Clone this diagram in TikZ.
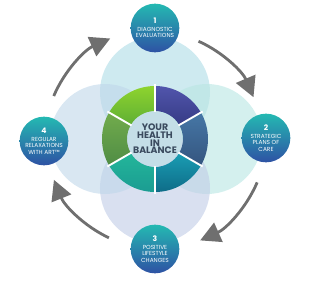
\documentclass[tikz,border=0pt]{standalone}
\usepackage{fontspec}
\setmainfont{Poppins}
\usetikzlibrary{arrows.meta, shadings}
\definecolor{hbInk}{HTML}{3A4A5E}
\definecolor{hbTeal}{HTML}{24B9B2}
\definecolor{hbBlue}{HTML}{2E52A4}
\definecolor{hbGrey}{HTML}{6F6F6F}
\definecolor{hbPetalA}{HTML}{AEDCE6}
\definecolor{hbPetalB}{HTML}{B8E6E3}
\definecolor{hbPetalC}{HTML}{C0CCE6}
\definecolor{hbPetalD}{HTML}{BFD7EA}
\definecolor{hbCore}{HTML}{C4DEE7}
\definecolor{segIndigoA}{HTML}{5155AC}
\definecolor{segIndigoB}{HTML}{363B85}
\definecolor{segSlateA}{HTML}{4677A6}
\definecolor{segSlateB}{HTML}{34557F}
\definecolor{segTealA}{HTML}{1A9DB3}
\definecolor{segTealB}{HTML}{0E6C88}
\definecolor{segMintA}{HTML}{23B69A}
\definecolor{segMintB}{HTML}{1B9C92}
\definecolor{segOliveA}{HTML}{72AC4C}
\definecolor{segOliveB}{HTML}{4F8C45}
\definecolor{segLimeA}{HTML}{8ED42E}
\definecolor{segLimeB}{HTML}{5FAE34}
\tikzset{
  stepdot/.style={
    circle, draw=none, minimum size=14.6mm, inner sep=0pt,
    top color=hbTeal, bottom color=hbBlue, text=white,
    align=center, font=\fontsize{5}{5.6}\selectfont
  },
  petal/.style={fill opacity=0.6},
  turn/.style={-{Triangle[length=6mm, width=6.2mm]}, line width=2.4pt, draw=hbGrey},
  hub/.style={circle, minimum size=16.2mm, inner sep=0pt, fill=hbCore,
    align=center, text=hbInk, font=\fontsize{8}{6.6}\selectfont\bfseries},
}
\newcommand{\segment}[4]{%
  \shade[top color=#3, bottom color=#4]
    (#1:28) arc[start angle=#1, end angle=#2, radius=28]
    -- (#2:53) arc[start angle=#2, end angle=#1, radius=53] -- cycle;}

\begin{document}
\begin{tikzpicture}[x=0.3mm, y=0.3mm]
  \useasboundingbox (-155,-143) rectangle (155,139);

  % pale petals
  \fill[petal, hbPetalA] (0,47) circle[radius=55];
  \fill[petal, hbPetalB] (52,0) circle[radius=55];
  \fill[petal, hbPetalC] (0,-49) circle[radius=55];
  \fill[petal, hbPetalD] (-50,0) circle[radius=55];

  % ring
  \segment{30}{90}{segIndigoA}{segIndigoB}
  \segment{-30}{30}{segSlateA}{segSlateB}
  \segment{-90}{-30}{segTealA}{segTealB}
  \segment{210}{270}{segMintA}{segMintB}
  \segment{150}{210}{segOliveA}{segOliveB}
  \segment{90}{150}{segLimeA}{segLimeB}
  \foreach \a in {30,90,...,330}
    \draw[white, line width=1.6pt] (\a:26) -- (\a:55);
  \node[hub] (hub) at (0,0) {YOUR\\HEALTH\\IN\\BALANCE};

  % the four steps
  \node[stepdot] (s1) at (0,111) {{\fontsize{6.5}{6.5}\selectfont\bfseries 1}\\[1pt]DIAGNOSTIC\\EVALUATIONS};
  \node[stepdot] (s2) at (111,1) {{\fontsize{6.5}{6.5}\selectfont\bfseries 2}\\[1pt]STRATEGIC\\PLANS OF\\CARE};
  \node[stepdot] (s3) at (0,-110) {{\fontsize{6.5}{6.5}\selectfont\bfseries 3}\\[1pt]POSITIVE\\LIFESTYLE\\CHANGES};
  \node[stepdot] (s4) at (-111,-2) {{\fontsize{6.5}{6.5}\selectfont\bfseries 4}\\[1pt]REGULAR\\RELAXATIONS\\WITH ART™};

  \coordinate (a1) at (157:110);
  \coordinate (a2) at (66:107);
  \coordinate (a3) at (-23:111);
  \coordinate (a4) at (-115:109);
  \draw[turn] (a1) arc[start angle=157, end angle=114, radius=110];
  \draw[turn] (a2) arc[start angle=66, end angle=23, radius=107];
  \draw[turn] (a3) arc[start angle=-23, end angle=-66, radius=111];
  \draw[turn] (a4) arc[start angle=-115, end angle=-158, radius=109];
\end{tikzpicture}
\end{document}
